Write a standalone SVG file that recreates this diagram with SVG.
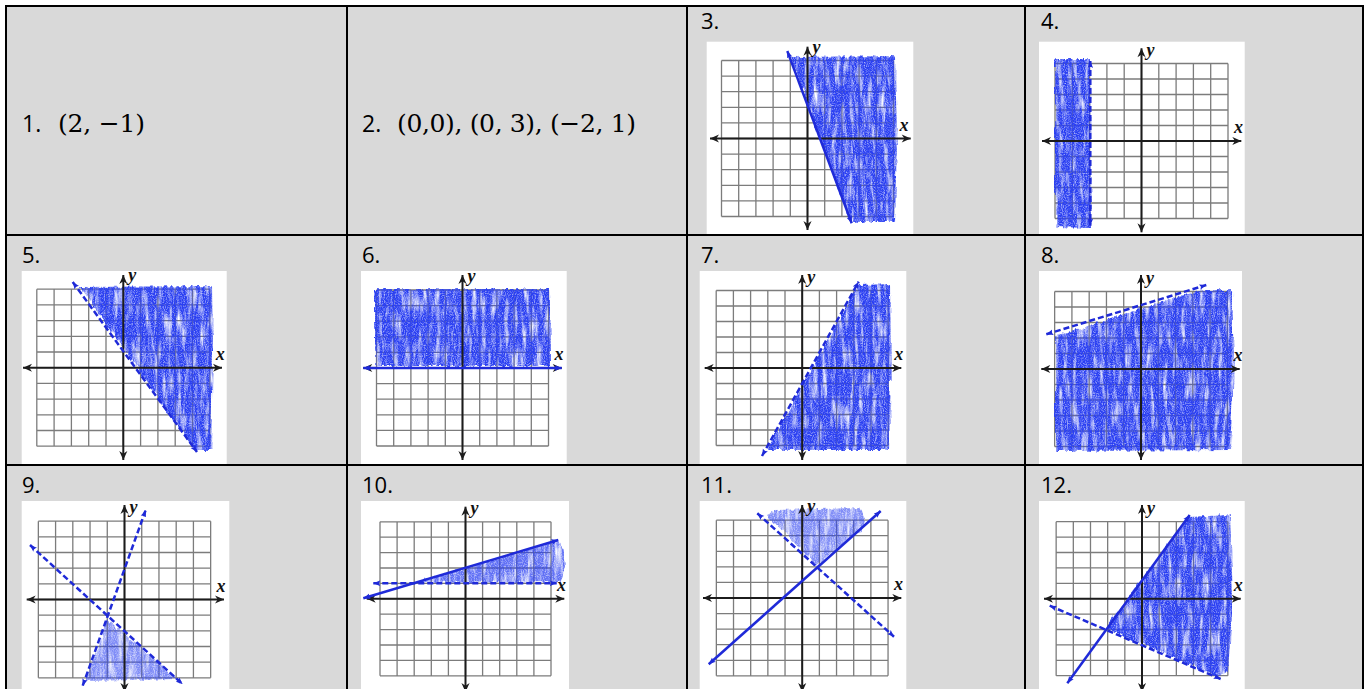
<svg xmlns="http://www.w3.org/2000/svg" xmlns:xlink="http://www.w3.org/1999/xlink" width="1366" height="689" viewBox="0 0 1366 689">
<style>
.cell{fill:#d9d9d9}
.tbl{stroke:#000;stroke-width:2;fill:none}
.img{fill:#fff}
.grid{fill:none;stroke:#7c7c7c;stroke-width:1.3}
.axis{stroke:#1c1c1c;stroke-width:2;fill:none;marker-start:url(#ak);marker-end:url(#ak)}
.bl{stroke:#1f2ad8;stroke-width:2.5;fill:none;marker-start:url(#ab);marker-end:url(#ab)}
.dash{stroke-dasharray:6 3}
.shade{fill:#2a3ff2;filter:url(#scr)}
.lite{fill-opacity:.6}
.lbl{font-family:"Open Sans","Liberation Sans",sans-serif;font-size:22px;fill:#000}
.num{font-family:"Open Sans","Liberation Sans",sans-serif;font-size:23px;fill:#000}
.math{font-family:"DejaVu Serif","Liberation Serif",serif;font-size:25px;fill:#000}
.ax{font-family:"Liberation Serif",serif;font-style:italic;font-weight:bold;font-size:18px;fill:#111}
</style>
<defs>
<path id="grid" vector-effect="non-scaling-stroke" d="M-5-5V5M-4-5V5M-3-5V5M-2-5V5M-1-5V5M0-5V5M1-5V5M2-5V5M3-5V5M4-5V5M5-5V5M-5-5H5M-5-4H5M-5-3H5M-5-2H5M-5-1H5M-5 0H5M-5 1H5M-5 2H5M-5 3H5M-5 4H5M-5 5H5"/>
<marker id="ak" viewBox="0 0 10 10" refX="10" refY="5" markerWidth="10" markerHeight="9" markerUnits="userSpaceOnUse" orient="auto-start-reverse"><path d="M0,0.5L10,5L0,9.5L3,5z" fill="#1c1c1c"/></marker>
<marker id="ab" viewBox="0 0 10 10" refX="10" refY="5" markerWidth="7" markerHeight="7" markerUnits="userSpaceOnUse" orient="auto-start-reverse"><path d="M0,1L10,5L0,9L2,5z" fill="#1f2ad8"/></marker>
<filter id="scr" filterUnits="userSpaceOnUse" x="0" y="0" width="1366" height="689" color-interpolation-filters="sRGB">
<feTurbulence type="fractalNoise" baseFrequency="0.22 0.035" numOctaves="3" seed="7" result="n"/>
<feTurbulence type="fractalNoise" baseFrequency="0.9" numOctaves="1" seed="3" result="f"/>
<feDisplacementMap in="SourceGraphic" in2="n" scale="6" xChannelSelector="R" yChannelSelector="G" result="d"/>
<feColorMatrix in="n" type="matrix" values="0 0 0 0 0  0 0 0 0 0  0 0 0 0 0  2.4 0 0 0 -0.3" result="m"/>
<feColorMatrix in="f" type="matrix" values="0 0 0 0 0  0 0 0 0 0  0 0 0 0 0  1.6 0 0 0 0.1" result="m2"/>
<feComposite in="m" in2="m2" operator="arithmetic" k1="1" k2="0" k3="0" k4="0" result="mm"/>
<feComposite in="d" in2="mm" operator="in" result="s"/>
<feGaussianBlur in="s" stdDeviation="0.5"/>
</filter>
</defs>
<rect x="0" y="0" width="1366" height="689" fill="#fff"/>
<rect class="cell" x="6" y="6" width="1357" height="690"/>

<g id="cell-1">
<text class="num" x="22" y="132">1.</text>
<text class="math" x="58" y="132" textLength="87" lengthAdjust="spacing">(2, −1)</text>
</g>

<g id="cell-2">
<text class="num" x="362" y="132">2.</text>
<text class="math" x="397" y="132" textLength="239" lengthAdjust="spacing">(0,0), (0, 3), (−2, 1)</text>
</g>

<g id="graph-3">
<text class="lbl" x="701" y="28.5">3.</text>
<rect class="img" x="706.7" y="41.7" width="206.6" height="192.3"/>
<use xlink:href="#grid" class="grid" transform="translate(807.5 138.5) scale(17.2 15.6)"/>
<polygon class="shade" points="791,57 895,56 897,140 895,222 851,222"/>
<path class="axis" d="M710,138.5H910.7"/>
<path class="axis" d="M807.5,46.7V230"/>
<path class="bl" d="M787.3,51L851.7,223.3"/>
<text class="ax" x="899.5" y="130.5">x</text>
<text class="ax" x="812.5" y="52.5">y</text>
</g>

<g id="graph-4">
<text class="lbl" x="1041" y="28.5">4.</text>
<rect class="img" x="1039" y="41.7" width="205.7" height="192.3"/>
<use xlink:href="#grid" class="grid" transform="translate(1141.5 141) scale(17.3 15.5)"/>
<polygon class="shade" points="1055,59 1090,59 1091,228 1055,227"/>
<path class="axis" d="M1042,141H1241.3"/>
<path class="axis" d="M1141.5,48.3V232.3"/>
<path class="bl dash" d="M1090.3,61V225.7"/>
<text class="ax" x="1234" y="133">x</text>
<text class="ax" x="1146.5" y="55.5">y</text>
</g>

<g id="graph-5">
<text class="lbl" x="22" y="263">5.</text>
<rect class="img" x="21.7" y="271" width="205" height="193"/>
<use xlink:href="#grid" class="grid" transform="translate(123.3 367.7) scale(17.3 15.7)"/>
<polygon class="shade" points="80,287 212,286 213,350 211,450 195,450"/>
<path class="axis" d="M23,367.7H222"/>
<path class="axis" d="M123.3,275V460"/>
<path class="bl dash" d="M72.7,282L197,452"/>
<text class="ax" x="215.8" y="359.7">x</text>
<text class="ax" x="128.3" y="281.2">y</text>
</g>

<g id="graph-6">
<text class="lbl" x="362" y="263">6.</text>
<rect class="img" x="361" y="271" width="205.7" height="193"/>
<use xlink:href="#grid" class="grid" transform="translate(462.5 368) scale(17.2 15.6)"/>
<polygon class="shade" points="375,289 550,289 551,366 375,366"/>
<path class="axis" d="M363.3,368H561.7"/>
<path class="axis" d="M462.5,275V460"/>
<path class="bl" d="M363.3,368H561.7"/>
<text class="ax" x="554.5" y="360">x</text>
<text class="ax" x="467.5" y="282">y</text>
</g>

<g id="graph-7">
<text class="lbl" x="701" y="263">7.</text>
<rect class="img" x="699.7" y="271" width="206.6" height="193"/>
<use xlink:href="#grid" class="grid" transform="translate(802.2 368) scale(17.2 15.5)"/>
<polygon class="shade" points="858,285 890,284 891,370 889,450 767,450"/>
<path class="axis" d="M704.7,368H901.3"/>
<path class="axis" d="M802.2,275V460"/>
<path class="bl dash" d="M762,456L858.7,281.7"/>
<text class="ax" x="894.2" y="360">x</text>
<text class="ax" x="807.2" y="282.5">y</text>
</g>

<g id="graph-8">
<text class="lbl" x="1041" y="263">8.</text>
<rect class="img" x="1039" y="271" width="203" height="193"/>
<use xlink:href="#grid" class="grid" transform="translate(1141 369) scale(17.27 15.5)"/>
<polygon class="shade" points="1055,336 1200,290 1232,290 1234,370 1230,450 1055,451"/>
<path class="axis" d="M1041.3,369H1239.7"/>
<path class="axis" d="M1141,275V460"/>
<path class="bl dash" d="M1046.3,334.3L1206.3,285"/>
<text class="ax" x="1233.4" y="361">x</text>
<text class="ax" x="1146" y="283.5">y</text>
</g>

<g id="graph-9">
<text class="lbl" x="22" y="492.5">9.</text>
<rect class="img" x="21.7" y="501" width="207.6" height="188"/>
<use xlink:href="#grid" class="grid" transform="translate(124.5 599.5) scale(17.23 15.67)"/>
<polygon class="shade lite" points="107,619 177,679 86,681"/>
<path class="axis" d="M26.7,599.5H224"/>
<path class="axis" d="M124.5,505V692"/>
<path class="bl dash" d="M30,545L182.7,684.3"/>
<path class="bl dash" d="M82.7,685.7L145.7,510"/>
<text class="ax" x="216.6" y="591.5">x</text>
<text class="ax" x="129.5" y="513">y</text>
</g>

<g id="graph-10">
<text class="lbl" x="362" y="492.5">10.</text>
<rect class="img" x="361" y="501" width="208" height="188"/>
<use xlink:href="#grid" class="grid" transform="translate(465.5 598.8) scale(17.1 15.4)"/>
<polygon class="shade" style="fill-opacity:.75" points="413,583 558,541 564,550 566,568 560,582"/>
<path class="axis" d="M366.7,598.8H564.3"/>
<path class="axis" d="M465.5,506.7V692"/>
<path class="bl" d="M363.3,598.3L558.3,540"/>
<path class="bl dash" d="M373.3,583.3H556.7"/>
<text class="ax" x="557" y="590.8">x</text>
<text class="ax" x="470.5" y="513.8">y</text>
</g>

<g id="graph-11">
<text class="lbl" x="701" y="492.5">11.</text>
<rect class="img" x="699.7" y="501" width="206.6" height="188"/>
<use xlink:href="#grid" class="grid" transform="translate(802.2 598) scale(17.17 15.57)"/>
<polygon class="shade lite" points="817,566 767,515 775,510 860,508 866,520 862,533 853,535"/>
<path class="axis" d="M703,598H901.3"/>
<path class="axis" d="M802.2,505V692"/>
<path class="bl" d="M708.7,664.3L880.7,511"/>
<path class="bl dash" d="M757.3,513.3L894,636.7"/>
<text class="ax" x="894" y="590">x</text>
<text class="ax" x="807.2" y="512">y</text>
</g>

<g id="graph-12">
<text class="lbl" x="1041" y="492.5">12.</text>
<rect class="img" x="1039" y="501" width="205.7" height="188"/>
<use xlink:href="#grid" class="grid" transform="translate(1142 598.7) scale(17.17 15.4)"/>
<polygon class="shade" points="1106,628 1188,517 1230,515 1233,600 1228,672 1215,676"/>
<path class="axis" d="M1044,598.7H1240.7"/>
<path class="axis" d="M1142,505V692"/>
<path class="bl" d="M1067.3,683.3L1189.7,515"/>
<path class="bl dash" d="M1049.7,605.7L1220.7,679"/>
<text class="ax" x="1233.8" y="590.7">x</text>
<text class="ax" x="1147" y="513.7">y</text>
</g>

<g id="table-lines" class="tbl">
<path d="M5,6H1364M5,235H1364M5,465H1364"/>
<path d="M6,5V689M347,5V689M687,5V689M1025,5V689M1363,5V689"/>
</g>
</svg>
